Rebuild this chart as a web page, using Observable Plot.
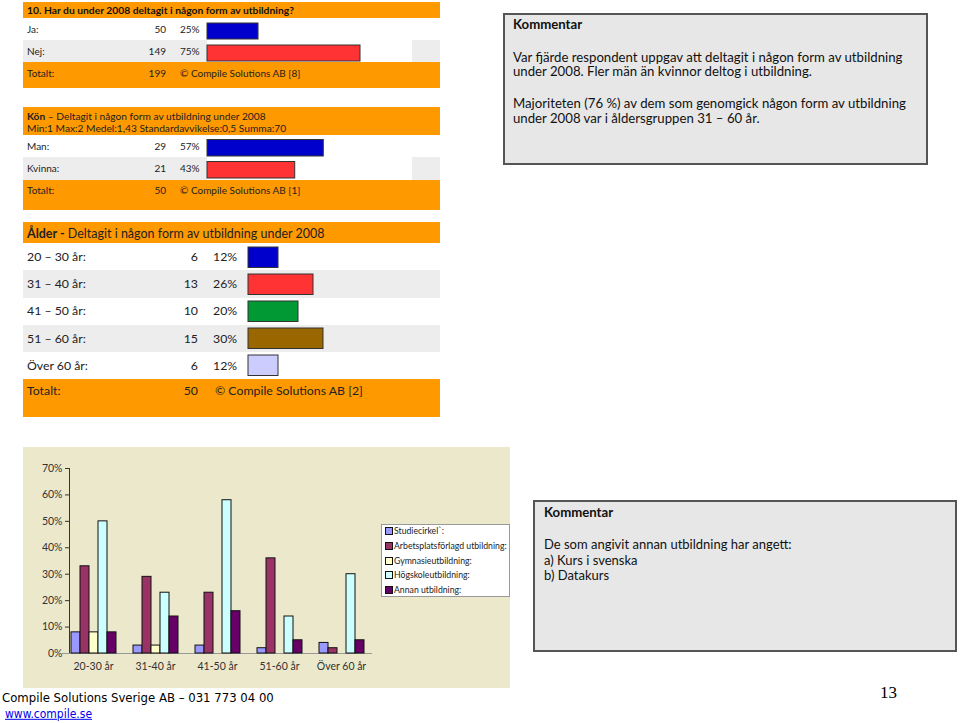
<!DOCTYPE html>
<html><head><meta charset="utf-8">
<script src="https://cdn.jsdelivr.net/npm/d3@7"></script>
<script src="https://cdn.jsdelivr.net/npm/@observablehq/plot@0.6"></script>
<style>
body{margin:0;background:#fff;font-family:Lato,"Open Sans",sans-serif;color:#222;}
#page{position:relative;width:960px;height:723px;overflow:hidden;background:#fff;}
.t{position:absolute;white-space:nowrap;line-height:1.2;transform:translateY(-50%);}
</style></head>
<body><div id="page"></div>
<script>
// ---------- data ----------
const q10Title = "10. Har du under 2008 deltagit i någon form av utbildning?";
const q10Labels = ["Ja:", "Nej:"];
const q10Counts = [50, 149];
const q10Pct = [0.25, 0.75];
const q10PctText = ["25%", "75%"];
const q10Total = 199;
const q10Source = "© Compile Solutions AB [8]";
const q10Colors = ["#0000CC", "#FF3333"];

const konTitleBold = "Kön";
const konTitle = " – Deltagit i någon form av utbildning under 2008";
const konStats = "Min:1 Max:2 Medel:1,43 Standardavvikelse:0,5 Summa:70";
const konLabels = ["Man:", "Kvinna:"];
const konCounts = [29, 21];
const konPct = [0.57, 0.43];
const konPctText = ["57%", "43%"];
const konTotal = 50;
const konSource = "© Compile Solutions AB [1]";
const konColors = ["#0000CC", "#FF3333"];

const ageTitleBold = "Ålder -";
const ageTitle = "  Deltagit i någon form av utbildning under 2008";
const ageLabels = ["20 – 30 år:", "31 – 40 år:", "41 – 50 år:", "51 – 60 år:", "Över 60 år:"];
const ageCounts = [6, 13, 10, 15, 6];
const agePct = [0.12, 0.26, 0.20, 0.30, 0.12];
const agePctText = ["12%", "26%", "20%", "30%", "12%"];
const ageTotal = 50;
const ageSource = "© Compile Solutions AB [2]";
const ageColors = ["#0000CC", "#FF3333", "#009933", "#996600", "#CCCCFF"];

const groups = ["20-30 år", "31-40 år", "41-50 år", "51-60 år", "Över 60 år"];
const seriesNames = ["Studiecirkel`:", "Arbetsplatsförlagd utbildning:", "Gymnasieutbildning:", "Högskoleutbildning:", "Annan utbildning:"];
const seriesColors = ["#9999FF", "#993366", "#FFFFCC", "#CCFFFF", "#660066"];
const studiecirkel = [0.08, 0.03, 0.03, 0.02, 0.04];
const arbetsplats = [0.33, 0.29, 0.23, 0.36, 0.02];
const gymnasie = [0.08, 0.03, 0, 0, 0];
const hogskola = [0.50, 0.23, 0.58, 0.14, 0.30];
const annan = [0.08, 0.14, 0.16, 0.05, 0.05];
const yTicks = [0, 0.1, 0.2, 0.3, 0.4, 0.5, 0.6, 0.7];

const comment1Title = "Kommentar";
const comment1Lines = ["Var fjärde respondent uppgav att deltagit i någon form av utbildning", "under 2008. Fler män än kvinnor deltog i utbildning.", "", "Majoriteten (76 %) av dem som genomgick någon form av utbildning", "under 2008 var i åldersgruppen 31 – 60 år."];
const comment2Title = "Kommentar";
const comment2Lines = ["De som angivit annan utbildning har angett:", "a) Kurs i svenska", "b) Datakurs"];
const footerText = "Compile Solutions Sverige AB – 031 773 04 00";
const footerLink = "www.compile.se";
const pageNumber = "13";

// ---------- helpers ----------
const page = document.getElementById("page");
function box(x, y, w, h, style) {
  const d = document.createElement("div");
  d.style.cssText = `position:absolute;left:${x}px;top:${y}px;width:${w}px;height:${h}px;box-sizing:border-box;${style || ""}`;
  page.appendChild(d); return d;
}
function text(x, y, str, style, right) {
  const d = document.createElement("div");
  d.className = "t";
  d.textContent = str;
  d.style.cssText = `top:${y}px;${right ? `right:${960 - x}px;` : `left:${x}px;`}${style || ""}`;
  page.appendChild(d); return d;
}
function richText(x, y, bold, normal, style) {
  const d = text(x, y, "", style);
  const b = document.createElement("b"); b.textContent = bold; d.appendChild(b);
  d.appendChild(document.createTextNode(normal));
  return d;
}
function place(svg, x, y) {
  svg.style.position = "absolute"; svg.style.left = x + "px"; svg.style.top = y + "px";
  page.appendChild(svg);
}
function barsPlot(labels, pct, colors, rowH, scaleW, insetTop, insetBottom) {
  const rows = labels.map((l, i) => ({label: l, pct: pct[i], color: colors[i]}));
  return Plot.plot({
    width: scaleW + 4, height: rowH * labels.length,
    marginLeft: 1, marginRight: 3, marginTop: 0, marginBottom: 0,
    style: {background: "transparent", overflow: "visible"},
    x: {domain: [0, 1], axis: null},
    y: {domain: labels, axis: null, padding: 0},
    marks: [Plot.barX(rows, {x: "pct", y: "label", fill: "color", stroke: "#333", strokeWidth: 1, insetTop, insetBottom})]
  });
}
const ORANGE = "#FF9900", GRAY = "#EDEDED";

// ---------- table: question 10 ----------
{
  const fs = "font-size:10px;";
  box(23, 2, 417, 86, `background:${ORANGE}`);
  text(27, 9.5, q10Title, "font-weight:bold;font-size:10.3px;color:#111");
  const rowY = [18, 40];
  rowY.forEach((y, i) => {
    box(23, y, 417, 22, `background:${i % 2 ? GRAY : "#fff"}`);
    if (i % 2) box(207, y, 205, 22, "background:#fff");
    text(27, y + 11, q10Labels[i], fs);
    text(166, y + 11, String(q10Counts[i]), fs, true);
    text(180, y + 11, q10PctText[i], fs);
  });
  text(27, 73, "Totalt:", fs);
  text(166, 73, String(q10Total), fs, true);
  text(180, 73, q10Source, fs);
  place(barsPlot(q10Labels, q10Pct, q10Colors, 22, 204, 5, 1), 206, 18);
}

// ---------- table: kön ----------
{
  const fs = "font-size:10px;";
  box(23, 107, 417, 103, `background:${ORANGE}`);
  richText(27, 116, konTitleBold, konTitle, "font-size:10.2px;");
  text(27, 128, konStats, "font-size:10.2px;");
  const rowY = [135, 157];
  rowY.forEach((y, i) => {
    box(23, y, 417, 22.5, `background:${i % 2 ? GRAY : "#fff"}`);
    if (i % 2) box(207, y, 205, 22.5, "background:#fff");
    text(27, y + 11, konLabels[i], fs);
    text(166, y + 11, String(konCounts[i]), fs, true);
    text(180, y + 11, konPctText[i], fs);
  });
  text(27, 190, "Totalt:", fs);
  text(166, 190, String(konTotal), fs, true);
  text(180, 190, konSource, fs);
  place(barsPlot(konLabels, konPct, konColors, 22.5, 204, 3.5, 2), 206, 135);
}

// ---------- table: ålder ----------
{
  const fs = "font-size:12.3px;";
  const rh = 27.3;
  box(23, 222, 417, 195, `background:${ORANGE}`);
  richText(27, 233, ageTitleBold, ageTitle, "font-size:12.5px;");
  ageLabels.forEach((l, i) => {
    const y = 243 + i * rh;
    box(23, y, 417, rh, `background:${i % 2 ? GRAY : "#fff"}`);
    text(27, y + rh / 2, l, fs);
    text(198, y + rh / 2, String(ageCounts[i]), fs, true);
    text(213, y + rh / 2, agePctText[i], fs);
  });
  text(27, 391, "Totalt:", fs);
  text(198, 391, String(ageTotal), fs, true);
  text(215, 391, ageSource, fs);
  place(barsPlot(ageLabels, agePct, ageColors, rh, 250, 3, 3.5), 247, 243);
}

// ---------- comment boxes ----------
{
  const cs = "font-size:13.2px;color:#111";
  box(503, 13, 425, 152, "background:#E7E7E7;border:2px solid #555;");
  text(513, 25, comment1Title, "font-weight:bold;" + cs);
  const ys = [57.5, 72, 88, 104, 119];
  comment1Lines.forEach((l, i) => { if (l) text(513, ys[i], l, cs); });

  box(533, 500, 424, 152, "background:#E7E7E7;border:2px solid #555;");
  text(544, 513, comment2Title, "font-weight:bold;" + cs);
  comment2Lines.forEach((l, i) => text(544, 545 + i * 15.5, l, "font-size:13px;color:#111"));
}

// ---------- grouped bar chart ----------
{
  box(23, 447, 487, 241, "background:#ECE8CB");
  const series = [studiecirkel, arbetsplats, gymnasie, hogskola, annan];
  const chartData = [];
  groups.forEach((g, gi) => seriesNames.forEach((s, si) => {
    chartData.push({group: g, series: s, value: series[si][gi]});
  }));
  const chart = Plot.plot({
    width: 487, height: 241,
    marginLeft: 39, marginRight: 137, marginTop: 21, marginBottom: 35,
    style: {background: "transparent", fontFamily: "Lato, sans-serif", fontSize: "10.5px", color: "#333"},
    fx: {domain: groups, paddingInner: 0.22, paddingOuter: 0.11, label: null, tickSize: 0, tickPadding: 9, axis: "bottom"},
    x: {domain: seriesNames, axis: null, padding: 0},
    y: {domain: [0, 0.7], ticks: yTicks, tickFormat: d3.format(".0%"), label: null, tickSize: 4, tickPadding: 3, line: true},
    color: {domain: seriesNames, range: seriesColors},
    marks: [
      Plot.ruleY([0], {stroke: "#999", insetLeft: -7, insetRight: -7}),
      Plot.barY(chartData.filter(d => d.value > 0), {fx: "group", x: "series", y: "value", fill: "series", stroke: "#111", strokeWidth: 1})
    ]
  });
  place(chart, 23, 447);

  // legend
  box(381, 524, 129, 73, "background:#fff;border:1px solid #999;");
  seriesNames.forEach((s, i) => {
    const y = 531 + i * 14.8;
    box(385, y - 4, 8, 8, `background:${seriesColors[i]};border:1px solid #111;`);
    text(394, y, s, "font-size:8.7px;color:#222");
  });
}

// ---------- footer ----------
text(2, 698, footerText, "font-family:'DejaVu Sans Condensed',sans-serif;font-size:13px;color:#000");
text(5, 714, footerLink, "font-family:'DejaVu Sans Condensed',sans-serif;font-size:12px;color:#0000EE;text-decoration:underline");
text(880, 693, pageNumber, "font-family:'Liberation Serif',serif;font-size:17px;color:#000");
</script>
</body></html>
